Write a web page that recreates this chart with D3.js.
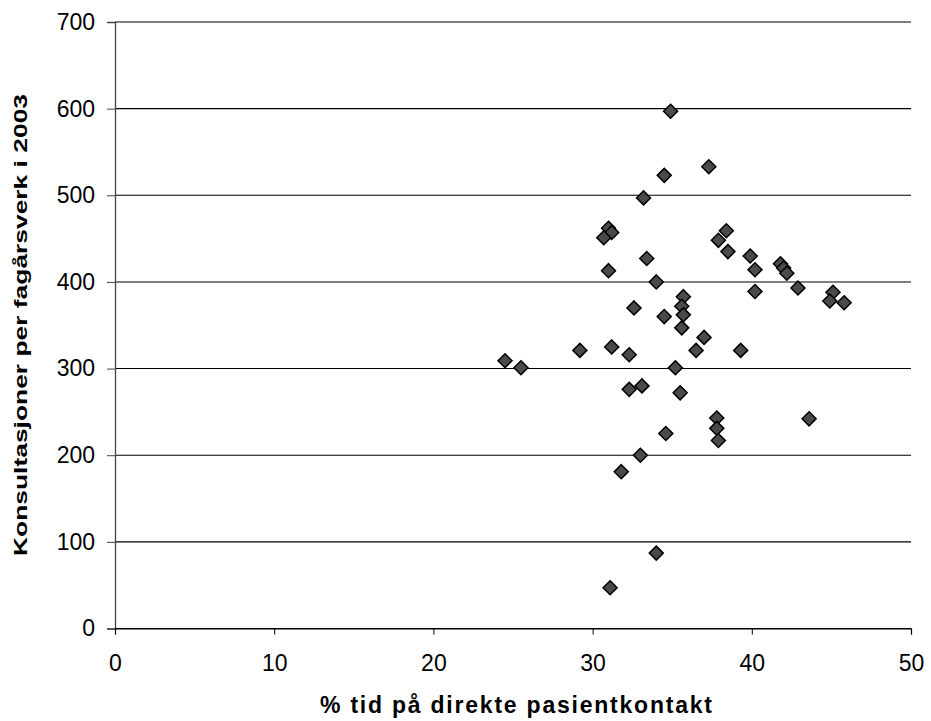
<!DOCTYPE html>
<html>
<head>
<meta charset="utf-8">
<script src="https://cdn.jsdelivr.net/npm/d3@7"></script>
<style>
  body { margin: 0; background: #fff; }
  text { font-family: "Liberation Sans", Arial, sans-serif; fill: #000; }
</style>
</head>
<body>
<div id="chart"></div>
<script>
const width = 931;
const height = 721;
const margin = {top: 22, right: 20, bottom: 93, left: 115};

// % tid på direkte pasientkontakt
const pctTime = [
  24.5, 25.5, 29.2, 31.2, 32.3, 32.6, 34.5, 32.3, 33.1, 35.2,
  34.6, 33.0, 31.8, 34.0, 31.1, 34.9, 34.5, 33.2, 31.0, 31.2,
  30.7, 33.4, 31.0, 34.0, 35.7, 35.6, 35.7, 35.6, 37.0, 36.5,
  35.5, 37.3, 38.4, 37.9, 38.5, 39.9, 40.2, 41.8, 42.0, 42.2,
  42.9, 40.2, 45.1, 44.9, 45.8, 39.3, 43.6, 37.8, 37.8, 37.9
];
// Konsultasjoner per fagårsverk i 2003
const consults = [
  309, 301, 321, 325, 316, 370, 360, 276, 280, 301,
  225, 200, 181, 87, 47, 597, 523, 497, 462, 457,
  451, 427, 413, 400, 383, 372, 362, 347, 336, 321,
  272, 533, 459, 448, 435, 430, 414, 421, 416, 410,
  393, 389, 388, 378, 376, 321, 242, 243, 231, 217
];
const xTicks = [0, 10, 20, 30, 40, 50];
const yTicks = [0, 100, 200, 300, 400, 500, 600, 700];

const svg = d3.select('#chart')
  .append('svg')
  .attr('width', width)
  .attr('height', height);

const plotW = 911 - margin.left;
const plotH = 628.5 - margin.top;

const x = d3.scaleLinear().domain([0, 50]).range([margin.left, margin.left + plotW]);
const y = d3.scaleLinear().domain([0, 700]).range([margin.top + plotH, margin.top]);

// horizontal gridlines
svg.append('g')
  .selectAll('line')
  .data(yTicks)
  .enter().append('line')
    .attr('x1', x(0))
    .attr('x2', x(50))
    .attr('y1', d => y(d))
    .attr('y2', d => y(d))
    .attr('stroke', '#000')
    .attr('stroke-width', 1.1);

// y axis
const yAxis = svg.append('g')
  .attr('transform', 'translate(' + x(0) + ',0)')
  .call(d3.axisLeft(y).tickValues(yTicks).tickSize(8).tickPadding(12).tickFormat(d3.format('d')));
yAxis.select('.domain').attr('stroke', '#444').attr('stroke-width', 1.3);
yAxis.selectAll('.tick line').attr('stroke', '#444');
yAxis.selectAll('text').style('font-size', '23px');

// x axis
const xAxis = svg.append('g')
  .attr('transform', 'translate(0,' + y(0) + ')')
  .call(d3.axisBottom(x).tickValues(xTicks).tickSize(6).tickPadding(20).tickFormat(d3.format('d')));
xAxis.select('.domain').attr('stroke', '#000').attr('stroke-width', 1.2);
xAxis.selectAll('.tick line').attr('stroke', '#000');
xAxis.selectAll('text').style('font-size', '23px');

// axis titles
svg.append('text')
  .attr('x', 516)
  .attr('y', 713)
  .attr('text-anchor', 'middle')
  .attr('textLength', 392)
  .attr('lengthAdjust', 'spacing')
  .style('font-size', '23px')
  .style('font-weight', 'bold')
  .text('% tid på direkte pasientkontakt');

svg.append('text')
  .attr('transform', 'translate(27,' + 325 + ') rotate(-90)')
  .attr('text-anchor', 'middle')
  .attr('textLength', 462)
  .attr('lengthAdjust', 'spacingAndGlyphs')
  .style('font-size', '19px')
  .style('font-weight', 'bold')
  .text('Konsultasjoner per fagårsverk i 2003');

// points
const pts = pctTime.map((v, i) => ({x: v, y: consults[i]}));
const r = 7;
svg.append('g')
  .selectAll('path')
  .data(pts)
  .enter().append('path')
    .attr('d', d => {
      const cx = x(d.x), cy = y(d.y);
      return 'M' + cx + ',' + (cy - r) + 'L' + (cx + r) + ',' + cy +
             'L' + cx + ',' + (cy + r) + 'L' + (cx - r) + ',' + cy + 'Z';
    })
    .attr('fill', '#4a4a4a')
    .attr('stroke', '#000')
    .attr('stroke-width', 1.5);
</script>
</body>
</html>
